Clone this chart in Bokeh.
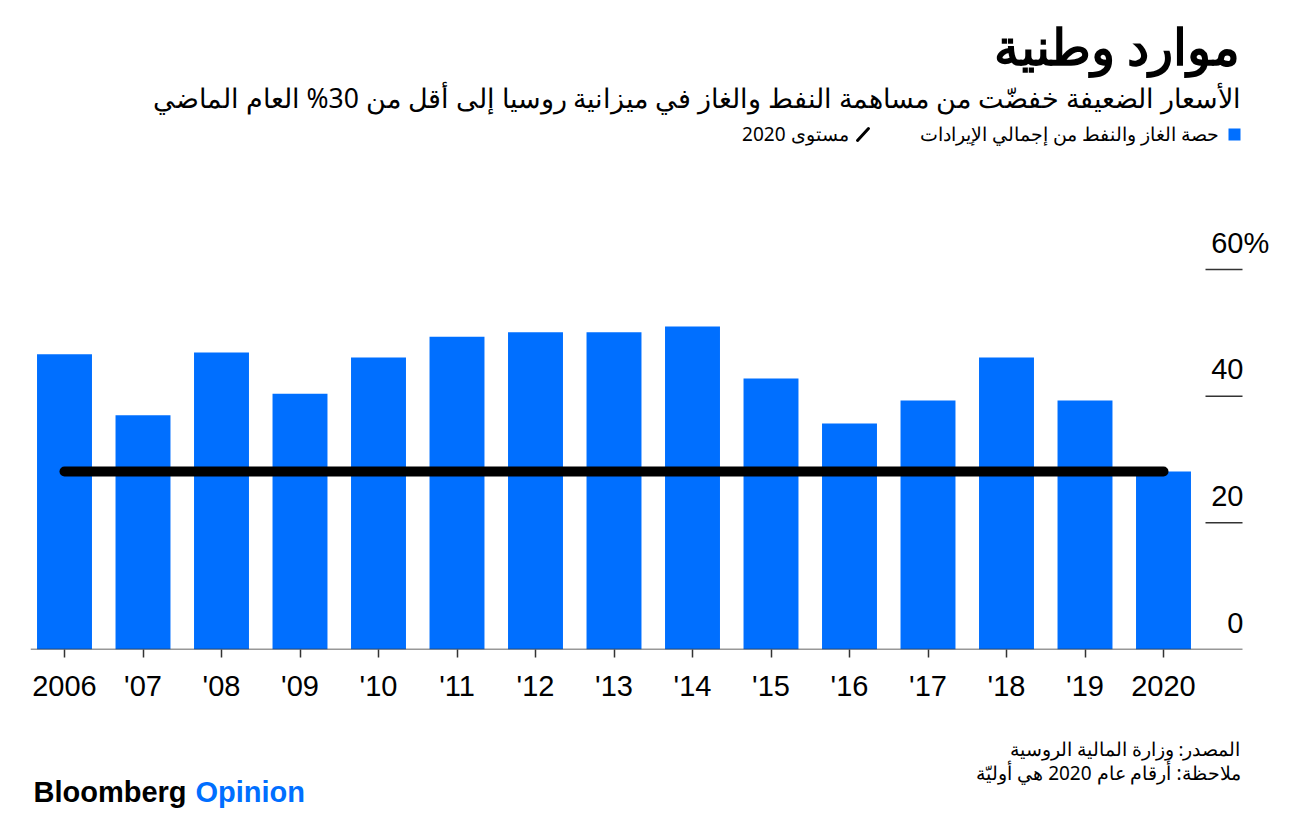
from bokeh.plotting import figure
from bokeh.layouts import column
from bokeh.models import Range1d, FixedTicker
from bokeh.core.properties import value
from bokeh.embed import file_html
from bokeh.resources import INLINE

# ---- data ----
years = ["2006", "'07", "'08", "'09", "'10", "'11", "'12", "'13", "'14",
         "'15", "'16", "'17", "'18", "'19", "2020"]
share = [46.6, 37.0, 46.9, 40.4, 46.1, 49.4, 50.1, 50.1, 51.0,
         42.8, 35.7, 39.3, 46.1, 39.3, 28.1]
level_2020 = share[-1]
y_ticks = [0, 20, 40, 60]
y_tick_labels = ["0", "20", "40", "60"]

title = "موارد وطنية"
subtitle = "الأسعار الضعيفة خفضّت من مساهمة النفط والغاز في ميزانية روسيا إلى أقل من 30% العام الماضي"
legend_bars = "حصة الغاز والنفط من إجمالي الإيرادات"
legend_line = "مستوى 2020"
source = "المصدر: وزارة المالية الروسية"
note = "ملاحظة: أرقام عام 2020 هي أوليّة"

RLE, PDF = "\u202B", "\u202C"
def rtl(s):
    return RLE + s + PDF

BLUE = "#006FFF"
AR_FONT = value("Noto Sans")
LAT_FONT = value("Liberation Sans")
W = 1297
frame_left, frame_right = 30, 1280


def blank(h):
    # frame spans page x 30..1280 so that data x == page x
    f = figure(width=W, height=h, x_range=Range1d(frame_left, frame_right),
               y_range=Range1d(0, h),
               output_backend="svg", toolbar_location=None,
               min_border_left=frame_left, min_border_right=W - frame_right,
               min_border_top=0, min_border_bottom=0, outline_line_color=None)
    f.axis.visible = False
    f.grid.visible = False
    return f


# ---- header (page y = HH - y) ----
HH = 168
head = blank(HH)
head.text(x=[1240], y=[HH - 45], text=[rtl(title)], text_align="right",
          text_baseline="middle", text_font=AR_FONT, text_font_style="bold",
          text_font_size="50px", text_color="#000000")
head.text(x=[1240], y=[HH - 97], text=[rtl(subtitle)], text_align="right",
          text_baseline="middle", text_font=AR_FONT,
          text_font_size="26.5px", text_color="#000000")
head.rect(x=[1234], y=[HH - 134], width=12, height=12, fill_color=BLUE, line_color=None)
head.text(x=[1218], y=[HH - 133], text=[rtl(legend_bars)], text_align="right",
          text_baseline="middle", text_font=AR_FONT,
          text_font_size="19px", text_color="#000000")
head.segment(x0=[857], y0=[HH - 140], x1=[868], y1=[HH - 128],
             line_color="#000000", line_width=3, line_cap="round")
head.text(x=[848], y=[HH - 133], text=[rtl(legend_line)], text_align="right",
          text_baseline="middle", text_font=AR_FONT,
          text_font_size="19px", text_color="#000000")

# ---- chart ----
idx = list(range(len(years)))
px_per_cat = 78.5
x0_px = 64  # page x of first category
xs = (frame_left - x0_px) / px_per_cat
xe = (frame_right - x0_px) / px_per_cat
px_per_unit = 380 / 60
frame_top, frame_bottom = 200, 649
ye = (frame_bottom - frame_top) / px_per_unit

CH = 552
top_page = HH
p = figure(width=W, height=CH, x_range=Range1d(xs, xe), y_range=Range1d(0, ye),
           output_backend="svg", toolbar_location=None,
           min_border_left=frame_left, min_border_right=W - frame_right,
           min_border_top=frame_top - top_page,
           min_border_bottom=CH - (frame_bottom - top_page),
           outline_line_color=None)
p.grid.visible = False
p.yaxis.visible = False
ax = p.xaxis[0]
ax.ticker = FixedTicker(ticks=idx)
ax.major_label_overrides = {i: y for i, y in enumerate(years)}
ax.axis_line_color = None
ax.major_tick_in = 0
ax.major_tick_out = 8
ax.major_tick_line_color = "#333333"
ax.major_tick_line_width = 1.5
ax.minor_tick_line_color = None
ax.major_label_text_font = "Liberation Sans"
ax.major_label_text_font_size = "29px"
ax.major_label_text_color = "#000000"
ax.major_label_standoff = 12

p.vbar(x=idx, top=share, width=0.7, fill_color=BLUE, line_color=None)
p.line(x=[idx[0], idx[-1]], y=[level_2020, level_2020], line_color="#000000",
       line_width=10, line_cap="round")

axis_end = (1242 - x0_px) / px_per_cat
p.segment(x0=[xs], y0=[0], x1=[axis_end], y1=[0], line_color="#333333", line_width=1.5)
tick_start = (1205 - x0_px) / px_per_cat
nz = [t for t in y_ticks if t > 0]
p.segment(x0=[tick_start] * len(nz), y0=nz, x1=[axis_end] * len(nz), y1=nz,
          line_color="#333333", line_width=1.5)
lab_x = (1243 - x0_px) / px_per_cat
p.text(x=[lab_x] * len(y_ticks), y=y_ticks, text=y_tick_labels, text_align="right",
       text_baseline="middle", y_offset=-27, text_font=LAT_FONT,
       text_font_size="29px", text_color="#000000")
p.text(x=[lab_x], y=[y_ticks[-1]], text=["%"], text_align="left",
       text_baseline="middle", y_offset=-27, text_font=LAT_FONT,
       text_font_size="29px", text_color="#000000")

# ---- footer (page y = 821 - y) ----
FH = 821 - HH - CH
foot = blank(FH)
foot.text(x=[1240], y=[821 - 748], text=[rtl(source)], text_align="right",
          text_baseline="middle", text_font=AR_FONT,
          text_font_size="18.5px", text_color="#000000")
foot.text(x=[1240], y=[821 - 772], text=[rtl(note)], text_align="right",
          text_baseline="middle", text_font=AR_FONT,
          text_font_size="19px", text_color="#000000")
foot.text(x=[33], y=[821 - 791], text=["Bloomberg"], text_align="left",
          text_baseline="middle", text_font=LAT_FONT,
          text_font_style="bold", text_font_size="29px", text_color="#000000")
foot.text(x=[195], y=[821 - 791], text=["Opinion"], text_align="left",
          text_baseline="middle", text_font=LAT_FONT,
          text_font_style="bold", text_font_size="29px", text_color=BLUE)

layout = column(head, p, foot, spacing=0)
open("out.html", "w").write(file_html(layout, INLINE))
